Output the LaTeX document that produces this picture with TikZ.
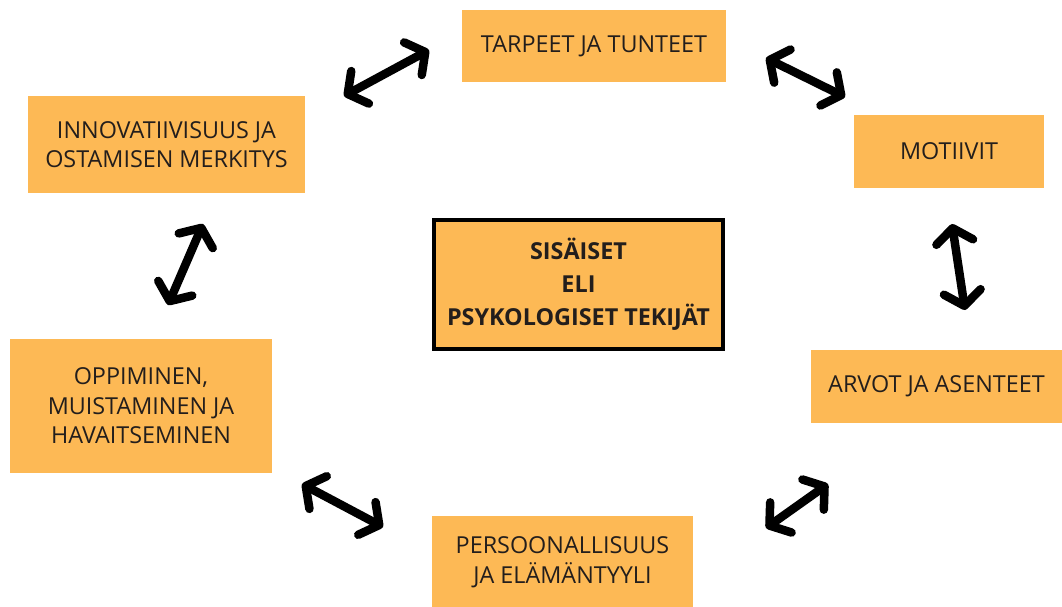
\documentclass[tikz,border=0pt]{standalone}
\usepackage{fontspec}
\setmainfont{Open Sans}
\usetikzlibrary{arrows.meta}
\definecolor{laatikko}{RGB}{253,185,85}
\definecolor{teksti}{RGB}{35,30,28}

\begin{document}
\begin{tikzpicture}[x=0.02cm, y=-0.02cm]
\tikzset{tekija/.style={fill=laatikko, text=teksti, align=center, inner sep=0pt, outer sep=0pt,
    font=\fontsize{13.3}{16.8}\selectfont},
  keskus/.style={tekija, draw=black, line width=0.08cm, font=\fontsize{13.3}{18.7}\selectfont\bfseries},
  nuoli/.style={line width=0.17cm, line cap=round,
    {Straight Barb[length=0.28cm, width=0.74cm, line join=round, line cap=round]}-{Straight Barb[length=0.28cm, width=0.74cm, line join=round, line cap=round]}}}
\useasboundingbox (0,0) rectangle (1062,606);
% laatikot
\node[tekija, minimum width=5.28cm, minimum height=1.44cm] (T1) at (594,46) {TARPEET JA TUNTEET};
\node[tekija, minimum width=3.8cm, minimum height=1.46cm] (T2) at (949,151.5) {MOTIIVIT};
\node[tekija, minimum width=5.02cm, minimum height=1.46cm] (T3) at (936.5,386.5) {ARVOT JA ASENTEET};
\node[tekija, minimum width=5.22cm, minimum height=1.84cm] (T4) at (562.5,562) {PERSOONALLISUUS\\ JA ELÄMÄNTYYLI};
\node[tekija, minimum width=5.24cm, minimum height=2.7cm] (T5) at (141,406) {OPPIMINEN,\\MUISTAMINEN JA\\HAVAITSEMINEN};
\node[tekija, minimum width=5.54cm, minimum height=1.94cm] (T6) at (166.5,144.5) {INNOVATIIVISUUS JA\\OSTAMISEN MERKITYS};
\node[keskus, minimum width=5.78cm, minimum height=2.58cm] (K) at (578.5,284.5) {SISÄISET\\ELI\\PSYKOLOGISET TEKIJÄT};
% nuolten päät
\coordinate (N1a) at (344,96);
\coordinate (N1b) at (429,50);
\coordinate (N2a) at (766,58);
\coordinate (N2b) at (845,97);
\coordinate (N3a) at (952,224);
\coordinate (N3b) at (965,310);
\coordinate (N4a) at (828,484);
\coordinate (N4b) at (766,528);
\coordinate (N5a) at (302,484);
\coordinate (N5b) at (383,527);
\coordinate (N6a) at (203,224);
\coordinate (N6b) at (168,305);
\draw[nuoli] (N1a) -- (N1b);
\draw[nuoli] (N2a) -- (N2b);
\draw[nuoli] (N3a) -- (N3b);
\draw[nuoli] (N4a) -- (N4b);
\draw[nuoli] (N5a) -- (N5b);
\draw[nuoli] (N6a) -- (N6b);
\end{tikzpicture}
\end{document}
